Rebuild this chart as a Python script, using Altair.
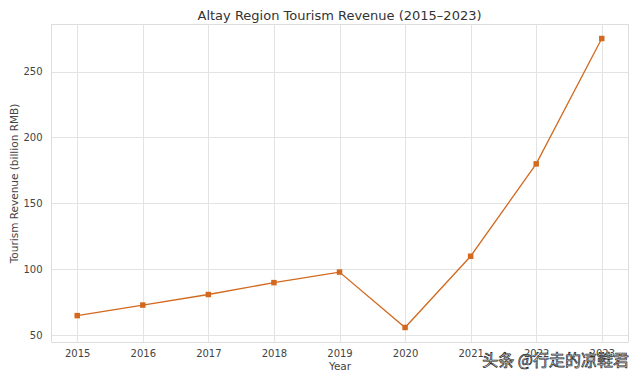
import altair as alt
import pandas as pd

years = [2015, 2016, 2017, 2018, 2019, 2020, 2021, 2022, 2023]
revenue = [65, 73, 81, 90, 98, 56, 110, 180, 275]

df = pd.DataFrame({"Year": years, "Revenue": revenue})

FONT = "DejaVu Sans"
ORANGE = "#d2691e"

x = alt.X("Year:Q",
          scale=alt.Scale(domain=[2014.6, 2023.4], nice=False, zero=False),
          axis=alt.Axis(values=years, format="d", title="Year", ticks=False,
                        labelPadding=6, titlePadding=3, domain=False,
                        gridColor="#e3e3e3", labelColor="#444", titleColor="#444",
                        labelFontSize=10, titleFontSize=10.5, labelFont=FONT, titleFont=FONT,
                        titleFontWeight="normal"))
y = alt.Y("Revenue:Q",
          scale=alt.Scale(domain=[45, 286], nice=False, zero=False),
          axis=alt.Axis(values=[50, 100, 150, 200, 250], title="Tourism Revenue (billion RMB)",
                        ticks=False, labelPadding=9, titlePadding=3, domain=False,
                        gridColor="#e3e3e3", labelColor="#444", titleColor="#444",
                        labelFontSize=10, titleFontSize=10.5, labelFont=FONT, titleFont=FONT,
                        titleFontWeight="normal"))

line = alt.Chart(df).mark_line(color=ORANGE, strokeWidth=1.3).encode(x=x, y=y)
pts = alt.Chart(df).mark_point(shape="square", filled=True, color=ORANGE, size=30, opacity=1).encode(x=x, y=y)

wm = alt.Chart(pd.DataFrame({"t": ["头条 @行走的凉鞋君"]})).mark_text(
    font="Noto Sans CJK SC", fontSize=16, fill="white", stroke="#222", strokeWidth=0.7,
    align="right", baseline="alphabetic"
).encode(text="t:N", x=alt.value(578), y=alt.value(342))

chart = alt.layer(line, pts, wm).properties(
    width=577, height=318,
    title=alt.TitleParams("Altay Region Tourism Revenue (2015–2023)", font=FONT, fontSize=13,
                          fontWeight="normal", color="#333", offset=1),
    autosize=alt.AutoSizeParams(type="none"),
    padding={"left": 43, "top": 16, "right": 4, "bottom": 29},
).configure_view(stroke="#cccccc", strokeWidth=1).configure(background="white")

chart.save("out.html", embed_options={"renderer": "svg", "actions": False})
